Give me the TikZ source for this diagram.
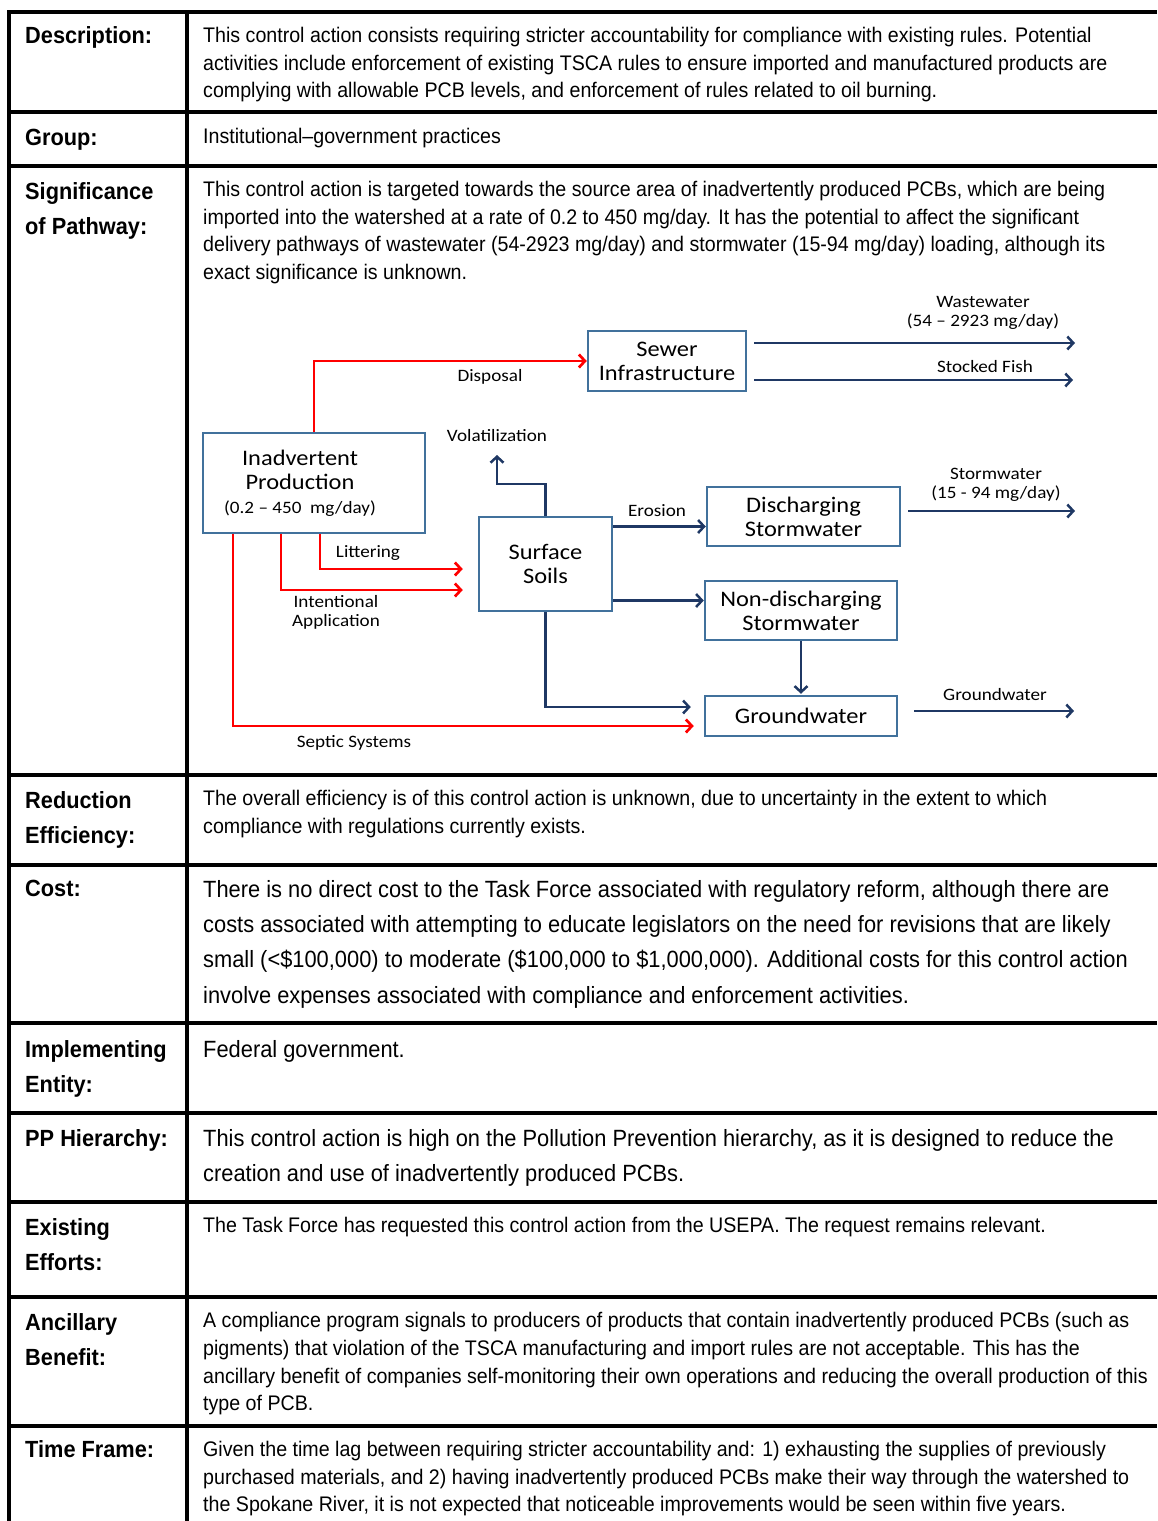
\documentclass[tikz,border=0pt]{standalone}
\usepackage{fontspec}
\setmainfont{Liberation Sans}[FakeStretch=0.93]
\newfontfamily\diafont{Carlito}[FakeStretch=1.1]
\usetikzlibrary{arrows.meta}
\definecolor{boxblue}{HTML}{41719C}
\definecolor{navy}{HTML}{1F3864}
\definecolor{redline}{HTML}{FF0000}
\tikzset{
  tline/.style={line width=3.5pt, black},
  lab/.style={anchor=base west, inner sep=0pt, font=\fontsize{23.4}{27}\selectfont\bfseries},
  sm/.style={anchor=base west, inner sep=0pt, font=\fontsize{21.1}{25}\selectfont},
  lg/.style={anchor=base west, inner sep=0pt, font=\fontsize{23.5}{28}\selectfont},
  fbox/.style={draw=boxblue, line width=2.5pt, inner sep=0pt, align=center, fill=white,
    font=\diafont\fontsize{22.2}{24}\selectfont},
  btext/.style={inner sep=0pt, align=center, font=\diafont\fontsize{22.2}{24}\selectfont},
  dlab/.style={inner sep=0pt, align=center, font=\diafont\fontsize{17.4}{19}\selectfont},
  tip/.style={-{Straight Barb[length=6pt,width=13pt]}},
  redarr/.style={tip, draw=redline, line width=2.7pt},
  bluearr/.style={tip, draw=navy, line width=2.5pt},
}
\begin{document}
\begin{tikzpicture}[x=1pt,y=-1pt]
\useasboundingbox (0,0) rectangle (1157,1521);
% table rules
\foreach \yy in {12,112,166,775,865,1023,1113,1202,1297,1426}
  \draw[tline] (7.25,\yy) -- (1157,\yy);
\draw[tline] (9,10.25) -- (9,1521);
\draw[tline] (187,10.25) -- (187,1521);

% labels
\node[lab] (l1) at (25,43) {Description:};
\node[lab] (l2) at (25,145) {Group:};
\node[lab] (l3a) at (25,199) {Significance};
\node[lab] (l3b) at (25,234) {of Pathway:};
\node[lab] (l4a) at (25,808) {Reduction};
\node[lab] (l4b) at (25,843) {Efficiency:};
\node[lab] (l5) at (25,896) {Cost:};
\node[lab] (l6a) at (25,1057) {Implementing};
\node[lab] (l6b) at (25,1092) {Entity:};
\node[lab] (l7) at (25,1146) {PP Hierarchy:};
\node[lab] (l8a) at (25,1235) {Existing};
\node[lab] (l8b) at (25,1270) {Efforts:};
\node[lab] (l9a) at (25,1330) {Ancillary};
\node[lab] (l9b) at (25,1365) {Benefit:};
\node[lab] (l10) at (25,1457) {Time Frame:};

% texts
\node[sm] (d1) at (203,42) {This control action consists requiring stricter accountability for compliance with existing rules. Potential};
\node[sm] (d2) at (203,70) {activities include enforcement of existing TSCA rules to ensure imported and manufactured products are};
\node[sm] (d3) at (203,97) {complying with allowable PCB levels, and enforcement of rules related to oil burning.};
\node[sm] (g1) at (203,143) {Institutional–government practices};
\node[sm] (s1) at (203,196) {This control action is targeted towards the source area of inadvertently produced PCBs, which are being};
\node[sm] (s2) at (203,224) {imported into the watershed at a rate of 0.2 to 450 mg/day. It has the potential to affect the significant};
\node[sm] (s3) at (203,251) {delivery pathways of wastewater (54-2923 mg/day) and stormwater (15-94 mg/day) loading, although its};
\node[sm] (s4) at (203,279) {exact significance is unknown.};
\node[sm] (r1) at (203,805) {The overall efficiency is of this control action is unknown, due to uncertainty in the extent to which};
\node[sm] (r2) at (203,833) {compliance with regulations currently exists.};
\node[lg] (c1) at (203,897) {There is no direct cost to the Task Force associated with regulatory reform, although there are};
\node[lg] (c2) at (203,932) {costs associated with attempting to educate legislators on the need for revisions that are likely};
\node[lg] (c3) at (203,967) {small (<\$100,000) to moderate (\$100,000 to \$1,000,000). Additional costs for this control action};
\node[lg] (c4) at (203,1003) {involve expenses associated with compliance and enforcement activities.};
\node[lg] (i1) at (203,1057) {Federal government.};
\node[lg] (p1) at (203,1146) {This control action is high on the Pollution Prevention hierarchy, as it is designed to reduce the};
\node[lg] (p2) at (203,1181) {creation and use of inadvertently produced PCBs.};
\node[sm] (e1) at (203,1232) {The Task Force has requested this control action from the USEPA. The request remains relevant.};
\node[sm] (a1) at (203,1327) {A compliance program signals to producers of products that contain inadvertently produced PCBs (such as};
\node[sm] (a2) at (203,1355) {pigments) that violation of the TSCA manufacturing and import rules are not acceptable. This has the};
\node[sm] (a3) at (203,1383) {ancillary benefit of companies self-monitoring their own operations and reducing the overall production of this};
\node[sm] (a4) at (203,1410) {type of PCB.};
\node[sm] (t1) at (203,1456) {Given the time lag between requiring stricter accountability and: 1) exhausting the supplies of previously};
\node[sm] (t2) at (203,1484) {purchased materials, and 2) having inadvertently produced PCBs make their way through the watershed to};
\node[sm] (t3) at (203,1511) {the Spokane River, it is not expected that noticeable improvements would be seen within five years.};

% diagram boxes
\node[fbox, minimum width=158pt, minimum height=60pt] (sewer) at (667,361) {Sewer\\Infrastructure};
\node[fbox, minimum width=222pt, minimum height=100pt] (inad) at (314,483) {};
\node[btext] (inadtxt) at ([xshift=-14pt]inad.center)
  {Inadvertent\\Production\\{\fontsize{17.4}{19}\selectfont (0.2 – 450~~mg/day)}};
\node[fbox, minimum width=133pt, minimum height=94pt] (ss) at (545.5,564) {Surface\\Soils};
\node[fbox, minimum width=193pt, minimum height=59pt] (dis) at (803.5,516.5) {Discharging\\Stormwater};
\node[fbox, minimum width=192pt, minimum height=59pt] (ndis) at (801,610.5) {Non-discharging\\Stormwater};
\node[fbox, minimum width=192pt, minimum height=40pt] (gw) at (801,716) {Groundwater};

\coordinate (vol) at (497,455);
\coordinate (wwend) at (1075,343);
\coordinate (fishend) at (1073,380);
\coordinate (swend) at (1075,511);
\coordinate (gwend) at (1074,711);

% red arrows
\draw[redarr] (inad.north) |- (sewer.west);
\draw[redarr, shorten >=15pt] ([xshift=6pt]inad.south) |- ([yshift=-5pt]ss.west);
\draw[redarr, shorten >=15pt] ([xshift=-33pt]inad.south) |- ([yshift=-26pt]ss.west);
\draw[redarr, shorten >=10pt] ([xshift=-81pt]inad.south) |- ([yshift=-10pt]gw.west);

% blue arrows
\draw[bluearr] (ss.north) -- ++(0,-32) -| (vol);
\draw[bluearr] ([yshift=-10pt]dis.west -| ss.east) -- ([yshift=-10pt]dis.west);
\draw[bluearr] ([yshift=10pt]ndis.west -| ss.east) -- ([yshift=10pt]ndis.west);
\draw[bluearr, shorten >=13pt] (ss.south) |- ([yshift=9pt]gw.west);
\draw[bluearr, shorten >=1pt] (ndis.south) -- (gw.north);
\draw[bluearr] ([xshift=7pt]sewer.east |- wwend) -- (wwend);
\draw[bluearr] ([xshift=7pt]sewer.east |- fishend) -- (fishend);
\draw[bluearr] ([xshift=7pt]dis.east |- swend) -- (swend);
\draw[bluearr] ([xshift=16pt]gw.east |- gwend) -- (gwend);

% diagram labels
\node[dlab] (ldisp) at (490,377) {Disposal};
\node[dlab] (llit) at (368,553) {Littering};
\node[dlab] (lint) at (336,612) {Intentional\\Application};
\node[dlab] (lsep) at (354,743) {Septic Systems};
\node[dlab] (lvol) at (497,436) {Volatilization};
\node[dlab] (lero) at (657,511) {Erosion};
\node[dlab] (lww) at (983,313) {Wastewater\\(54 – 2923 mg/day)};
\node[dlab] (lfish) at (985,367) {Stocked Fish};
\node[dlab] (lsw) at (996,485) {Stormwater\\(15 - 94 mg/day)};
\node[dlab] (lgw) at (995,695) {Groundwater};
\end{tikzpicture}
\end{document}
